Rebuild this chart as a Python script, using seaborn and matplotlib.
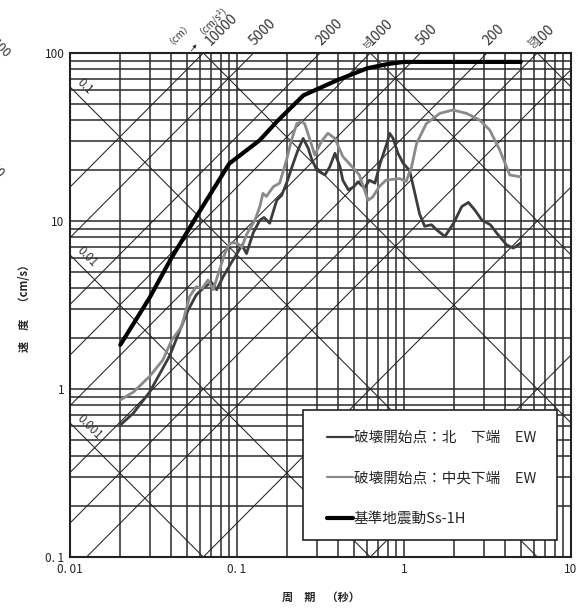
import matplotlib
matplotlib.use('Agg')

import numpy as np
import matplotlib.pyplot as plt
import matplotlib.ticker as mticker
from matplotlib.patches import Rectangle
import seaborn as sns

# periods (s) and pseudo velocity (cm/s)
north_T = [0.02, 0.024, 0.030, 0.0346, 0.0397, 0.0455, 0.051, 0.057, 0.064, 0.0705,
           0.0755, 0.0826, 0.093, 0.10, 0.107, 0.114, 0.125, 0.137, 0.145, 0.157,
           0.173, 0.185, 0.198, 0.217, 0.232, 0.249, 0.267, 0.279, 0.30, 0.336,
           0.359, 0.386, 0.414, 0.43, 0.465, 0.50, 0.53, 0.58, 0.62, 0.67,
           0.72, 0.79, 0.82, 0.86, 0.92, 0.99, 1.08, 1.13, 1.24, 1.33,
           1.46, 1.58, 1.76, 1.98, 2.22, 2.43, 2.66, 2.93, 3.29, 3.6,
           4.12, 4.52, 5.0]
north_V = [0.61, 0.72, 0.96, 1.24, 1.59, 2.24, 2.95, 3.63, 4.06, 4.3,
           3.9, 4.66, 5.7, 6.4, 7.2, 6.4, 8.5, 10.1, 10.5, 9.7,
           13.3, 14.2, 16.8, 22.0, 26.5, 31.0, 27.1, 23.6, 20.1, 18.8,
           21.0, 25.3, 21.0, 17.5, 15.3, 16.0, 17.1, 15.7, 17.5, 16.8,
           22.0, 29.0, 33.3, 31.0, 25.3, 22.0, 20.0, 16.5, 11.0, 9.3,
           9.5, 8.8, 8.1, 9.7, 12.2, 12.9, 11.6, 10.1, 9.5, 8.45,
           7.2, 6.9, 7.4]

center_T = [0.02, 0.024, 0.030, 0.036, 0.0407, 0.0466, 0.052, 0.057, 0.062, 0.067,
            0.072, 0.078, 0.0845, 0.0906, 0.10, 0.107, 0.114, 0.128, 0.137, 0.143,
            0.15, 0.165, 0.18, 0.198, 0.212, 0.228, 0.244, 0.254, 0.274, 0.292,
            0.32, 0.35, 0.386, 0.43, 0.49, 0.54, 0.58, 0.61, 0.65, 0.71,
            0.78, 0.94, 1.03, 1.11, 1.19, 1.36, 1.64, 1.96, 2.37, 2.84,
            3.26, 3.74, 4.3, 5.0]
center_V = [0.86, 0.96, 1.19, 1.49, 1.96, 2.35, 3.55, 4.06, 3.98, 4.46,
            3.9, 5.0, 6.4, 7.4, 7.4, 7.0, 8.3, 10.1, 12.2, 14.6,
            14.0, 16.0, 16.8, 23.1, 30.3, 38.0, 39.0, 38.0, 30.3, 24.7,
            29.7, 33.3, 31.0, 24.2, 21.0, 18.8, 15.3, 13.3, 13.9, 16.0,
            17.5, 17.9, 17.2, 21.0, 29.0, 38.0, 43.7, 45.8, 43.7, 39.9,
            34.8, 26.5, 18.8, 18.3]

ss_T = [0.02, 0.03, 0.04, 0.06, 0.09, 0.137, 0.173, 0.25, 0.4, 0.6, 0.8, 1.0, 5.0]
ss_V = [1.83, 3.5, 5.9, 11.5, 22.0, 30.3, 39.0, 56.0, 69.0, 81.0, 86.0, 88.5, 88.5]

legend_labels = ['破壊開始点：北　下端　EW', '破壊開始点：中央下端　EW', '基準地震動Ss-1H']

# tripartite guide lines
accel_lines = [1, 10, 50, 100, 200, 500, 1000, 2000, 5000, 10000]
accel_labels = [10000, 5000, 2000, 1000, 500, 200, 100]
disp_lines = [0.001, 0.01, 0.1, 1, 10, 100]
disp_labels_left = [0.1, 0.01, 0.001]

sns.set_style('white')
plt.rcParams['font.family'] = ['Noto Sans CJK JP', 'DejaVu Sans']

fig = plt.figure(figsize=(5.78, 6.09), dpi=100)
ax = fig.add_axes([70 / 578, 1 - 557 / 609, 501 / 578, 504 / 609])
ax.set_xscale('log')
ax.set_yscale('log')

w = 2 * np.pi
tt = np.array([0.001, 100.0])
for a in accel_lines:
    ax.plot(tt, a * tt / w, color='#222222', lw=0.75, zorder=1.5)
for d in disp_lines:
    ax.plot(tt, w * d / tt, color='#222222', lw=0.75, zorder=1.5)

sns.lineplot(x=north_T, y=north_V, ax=ax, color='#3c3c3c', lw=2.0, sort=False,
             label=legend_labels[0], zorder=3)
sns.lineplot(x=center_T, y=center_V, ax=ax, color='#8a8a8a', lw=2.0, sort=False,
             label=legend_labels[1], zorder=3)
sns.lineplot(x=ss_T, y=ss_V, ax=ax, color='black', lw=3.0, sort=False,
             label=legend_labels[2], zorder=4)

ax.set_xlim(0.01, 10)
ax.set_ylim(0.1, 100)

# acceleration labels along the top
for a in accel_labels:
    t0 = w * 100 / a
    shift = 1.14 if a == 10000 else 1.05
    ax.text(t0 * shift, 107, str(a), rotation=45, rotation_mode='anchor',
            ha='left', va='bottom', fontsize=10, color='#333333', clip_on=False)
ax.text(0.039, 109, '（cm）', rotation=45, rotation_mode='anchor', ha='left',
        va='bottom', fontsize=7, color='#333333', clip_on=False)
ax.text(0.0595, 125, '（cm/s²）', rotation=45, rotation_mode='anchor', ha='left',
        va='bottom', fontsize=7, color='#333333', clip_on=False)
ax.annotate('', xy=(0.0585, 116), xytext=(0.052, 100), xycoords='data',
            arrowprops=dict(arrowstyle='-|>', lw=0.6, color='#333333',
                            mutation_scale=5), annotation_clip=False)

# displacement labels
for d in disp_labels_left:
    t0 = 0.0106
    ax.text(t0, w * d / t0 * 1.08, str(d), rotation=-45, rotation_mode='anchor',
            ha='left', va='bottom', fontsize=8.5, color='#333333')
for d in [10, 100]:
    t0 = w * d / 100
    ax.text(t0 * 0.93, 103, str(d), rotation=-45, rotation_mode='anchor',
            ha='right', va='bottom', fontsize=6, color='#555555', clip_on=False)

# cut-off labels of the neighbouring panels
fig.text(0.022, 0.92, '100', rotation=-45, ha='right', va='center', fontsize=9,
         color='#333333')
fig.text(0.012, 0.718, '10', rotation=-45, ha='right', va='center', fontsize=9,
         color='#333333')
fig.text(0.992, 0.905, '10', rotation=-45, ha='left', va='center', fontsize=9,
         color='#333333')

ax.set_xticks([0.01, 0.1, 1, 10])
ax.set_xticklabels(['0. 01', '0. 1', '1', '10'])
ax.set_yticks([0.1, 1, 10, 100])
ax.set_yticklabels(['0. 1', '1', '10', '100'])
ax.xaxis.set_minor_locator(mticker.LogLocator(base=10, subs=np.arange(2, 10)))
ax.yaxis.set_minor_locator(mticker.LogLocator(base=10, subs=np.arange(2, 10)))
ax.xaxis.set_minor_formatter(mticker.NullFormatter())
ax.yaxis.set_minor_formatter(mticker.NullFormatter())
ax.tick_params(axis='both', which='both', length=0, labelsize=8.5, pad=4,
               labelcolor='#222222')
ax.grid(True, which='both', color='#2a2a2a', lw=1.1)
ax.set_axisbelow(True)

for s in ax.spines.values():
    s.set_color('#222222')
    s.set_linewidth(1.5)

ax.set_xlabel('周　期　（秒）', fontsize=8, labelpad=11, fontweight='bold')
ax.set_ylabel('速　度　（cm/s）', fontsize=8, labelpad=10, fontweight='bold')

# legend: white box drawn separately, entries placed inside it
box = Rectangle((0.465, 0.034), 0.507, 0.258, transform=ax.transAxes,
                facecolor='white', edgecolor='#222222', lw=1.2, zorder=5)
ax.add_patch(box)
leg = ax.legend(loc='center left', bbox_to_anchor=(0.513, 0.156), fontsize=10.5,
                frameon=False, labelspacing=1.8, handlelength=1.75,
                handletextpad=0.1, borderpad=0, borderaxespad=0)
leg.set_zorder(6)
for h, lw in zip(leg.get_lines(), [1.6, 1.6, 3.0]):
    h.set_linewidth(lw)

plt.savefig('out.png', dpi=100)
plt.close()
